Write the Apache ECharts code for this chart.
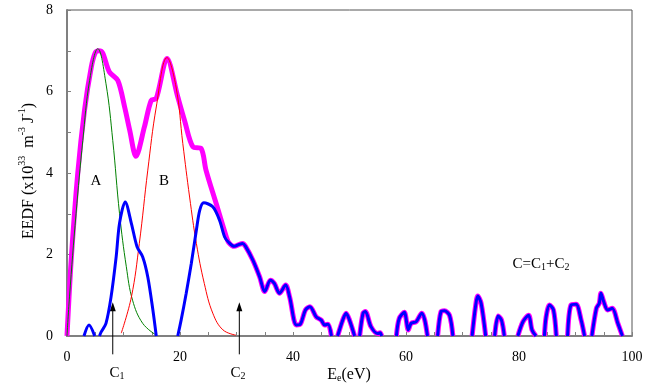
<!DOCTYPE html>
<html>
<head>
<meta charset="utf-8">
<script src="https://cdn.jsdelivr.net/npm/echarts@6/dist/echarts.min.js"></script>
<style>
  html, body { margin: 0; padding: 0; background: #fff; }
  #chart { width: 652px; height: 386px; }
</style>
</head>
<body>
<div id="chart"></div>
<script>
// total EEDF (magenta), head part before it merges with C
const eedfHead = [
  [0, 0], [0.74, 1.86], [1.9, 3.99], [3.1, 5.54], [4.3, 6.6], [5.0, 6.95], [5.6, 7.0],
  [6.3, 6.95], [7.5, 6.48], [9.0, 6.27], [10.2, 5.62], [11.1, 5.05], [12.2, 4.41],
  [13.7, 5.13], [14.9, 5.78], [15.8, 5.83], [17.7, 6.81], [19.6, 5.87], [20.8, 5.29],
  [22.3, 4.64], [23.75, 4.6], [24.6, 4.07], [26.4, 3.25], [28.2, 2.43]
]

// group A (green) and group B (red)
const groupA = [
  [0, 0], [0.44, 0.96], [1.6, 3.0], [2.8, 4.8], [4.0, 6.27], [5.45, 7.05], [6.9, 6.19],
  [8.1, 4.8], [9.3, 3.0], [10.5, 1.7], [11.6, 0.88], [13.4, 0.31], [15.8, 0.02]
]
const groupB = [
  [9.6, 0.07], [11.4, 0.96], [12.8, 2.27], [14.3, 4.07], [15.8, 5.62], [17.7, 6.83],
  [19.3, 6.11], [20.5, 4.72], [21.7, 3.41], [22.9, 2.27], [24.3, 1.29], [25.8, 0.56],
  [27.6, 0.15], [29.9, 0.02]
]

// C = C1 + C2 (blue), one list per visible hump
const groupC = [
  [[3.0, 0], [3.9, 0.27], [4.9, 0]],
  [[5.75, 0], [6.05, 0.1], [6.9, 0.31], [7.8, 0.96], [8.7, 1.94], [9.3, 2.77], [10.3, 3.29],
   [11.4, 2.76], [12.4, 2.19], [13.4, 1.94], [14.3, 1.45], [15.2, 0.64], [15.8, 0]],
  [[19.6, 0], [20.2, 0.39], [21.1, 1.05], [22.0, 1.78], [22.9, 2.6], [23.5, 3.09], [24.2, 3.27],
   [25.8, 3.17], [27.0, 2.84], [27.9, 2.43], [28.6, 2.3], [29.6, 2.2], [30.5, 2.25], [31.1, 2.27],
   [31.6, 2.2], [32.9, 1.86], [34.1, 1.45], [35.0, 1.09], [36.0, 1.37], [36.7, 1.29], [37.6, 1.05],
   [38.7, 1.25], [39.4, 0.96], [40.6, 0.27], [41.3, 0.29], [42.2, 0.64], [43.0, 0.72], [44.1, 0.47],
   [45.0, 0.39], [45.6, 0.27], [46.2, 0.29], [46.8, 0]],
  [[47.9, 0], [48.8, 0.39], [49.4, 0.56], [50.0, 0.39], [50.9, 0]],
  [[51.8, 0], [52.4, 0.56], [52.8, 0.6], [53.8, 0.23], [55.0, 0.06], [55.4, 0.08], [55.7, 0]],
  [[58.3, 0], [58.8, 0.43], [59.7, 0.58], [60.4, 0.15], [60.9, 0.31], [61.8, 0.35], [62.8, 0.56],
   [63.3, 0.4], [63.8, 0]],
  [[65.6, 0], [66.2, 0.6], [66.8, 0.62], [67.7, 0.51], [68.3, 0]],
  [[71.7, 0], [72.3, 0.72], [72.7, 0.98], [73.3, 0.8], [74.1, 0]],
  [[75.7, 0], [76.3, 0.49], [76.9, 0.39], [77.4, 0]],
  [[79.8, 0], [80.7, 0.35], [81.7, 0.51], [82.3, 0.15], [83.0, 0]],
  [[84.5, 0], [84.8, 0.47], [85.4, 0.76], [86.1, 0.64], [86.6, 0]],
  [[88.6, 0], [89.2, 0.76], [90.1, 0.78], [91.0, 0.39], [91.6, 0]],
  [[92.9, 0], [93.7, 0.68], [94.2, 0.8], [94.5, 1.05], [95.0, 0.84], [95.7, 0.64], [96.5, 0.68],
   [97.5, 0.31], [98.3, 0]]
]

// arrows marking C1 and C2: [x, bottom, tip]
const arrowC1 = [8.1, -0.45, 0.72]
const arrowC2 = [30.5, -0.45, 0.72]

const withGaps = (segs) => {
  const out = []
  segs.forEach((s, i) => {
    if (i > 0) out.push([s[0][0] - 0.01, '-'])
    out.push(...s)
  })
  return out
}

const cData = withGaps(groupC)
// beyond ~28 eV the total curve runs under C
const totalData = withGaps(
  [eedfHead.concat(groupC[2].filter((p) => p[0] > 28.2))].concat(groupC.slice(3))
)

const font = "'Liberation Serif', 'Times New Roman', serif"
const rich = {
  n: { fontFamily: font, fontSize: 15, lineHeight: 20, verticalAlign: "bottom", color: "#000" },
  big: { fontFamily: font, fontSize: 16, lineHeight: 20, verticalAlign: "bottom", color: "#000" },
  sup: { fontFamily: font, fontSize: 10, lineHeight: 10, verticalAlign: "top", color: "#000" },
  sub: { fontFamily: font, fontSize: 10, lineHeight: 10, verticalAlign: "bottom", color: "#000" },
}

const arrowSeries = (a) => ({
  type: "line",
  clip: false,
  silent: true,
  z: 1,
  data: [
    { value: [a[0], a[1]], symbol: "none" },
    { value: [a[0], a[2]], symbol: "triangle", symbolSize: [6, 9] },
  ],
  lineStyle: { color: "#000", width: 1 },
  itemStyle: { color: "#000" },
})

const chart = echarts.init(document.getElementById("chart"))

chart.setOption({
  animation: false,
  backgroundColor: "#fff",
  grid: {
    left: 67, right: 20, top: 10, bottom: 50,
    show: true, borderColor: "#555", borderWidth: 1,
  },
  xAxis: {
    type: "value",
    min: 0, max: 100, interval: 20,
    axisLine: { lineStyle: { color: "#808080", width: 2 } },
    axisTick: { inside: true, length: 4, lineStyle: { color: "#808080" } },
    minorTick: { show: true, splitNumber: 4, length: 4, lineStyle: { color: "#808080" } },
    splitLine: { show: false },
    axisLabel: { color: "#000", fontFamily: font, fontSize: 14, margin: 14 },
  },
  yAxis: {
    type: "value",
    min: 0, max: 8, interval: 2,
    axisLine: { show: true, lineStyle: { color: "#808080", width: 2 } },
    axisTick: { show: true, inside: true, length: 4, lineStyle: { color: "#808080" } },
    minorTick: { show: true, splitNumber: 2, length: 4, lineStyle: { color: "#808080" } },
    splitLine: { show: false },
    axisLabel: { color: "#000", fontFamily: font, fontSize: 14, margin: 14 },
  },
  series: [
    {
      name: "EEDF", type: "line", data: totalData, smooth: 0.3, showSymbol: false,
      lineStyle: { color: "#ff00ff", width: 5 }, z: 2,
    },
    {
      name: "A", type: "line", data: groupA, smooth: 0.4, showSymbol: false,
      lineStyle: { color: "#008000", width: 1 }, z: 3,
    },
    {
      name: "B", type: "line", data: groupB, smooth: 0.4, showSymbol: false,
      lineStyle: { color: "#ff0000", width: 1 }, z: 3,
    },
    {
      name: "C", type: "line", data: cData, smooth: 0.3, showSymbol: false,
      lineStyle: { color: "#0000ff", width: 3 }, z: 4,
    },
    arrowSeries(arrowC1),
    arrowSeries(arrowC2),
  ],
  graphic: [
    {
      type: "text", x: 27, y: 171, rotation: Math.PI / 2,
      style: {
        text: "{big|EEDF (x10}{sup|33}{big|  m}{sup|-3}{big| J}{sup|-1}{big|)}",
        rich, align: "center", verticalAlign: "middle",
      },
    },
    { type: "text", x: 96, y: 179, style: { text: "{n|A}", rich, align: "center", verticalAlign: "middle" } },
    { type: "text", x: 164, y: 179, style: { text: "{n|B}", rich, align: "center", verticalAlign: "middle" } },
    {
      type: "text", x: 541, y: 262,
      style: { text: "{n|C=C}{sub|1}{n|+C}{sub|2}", rich, align: "center", verticalAlign: "middle" },
    },
    { type: "text", x: 117, y: 371, style: { text: "{n|C}{sub|1}", rich, align: "center", verticalAlign: "middle" } },
    { type: "text", x: 238, y: 371, style: { text: "{n|C}{sub|2}", rich, align: "center", verticalAlign: "middle" } },
    { type: "text", x: 349, y: 373, style: { text: "{big|E}{sub|e}{big|(eV)}", rich, align: "center", verticalAlign: "middle" } },
  ],
})
</script>
</body>
</html>
